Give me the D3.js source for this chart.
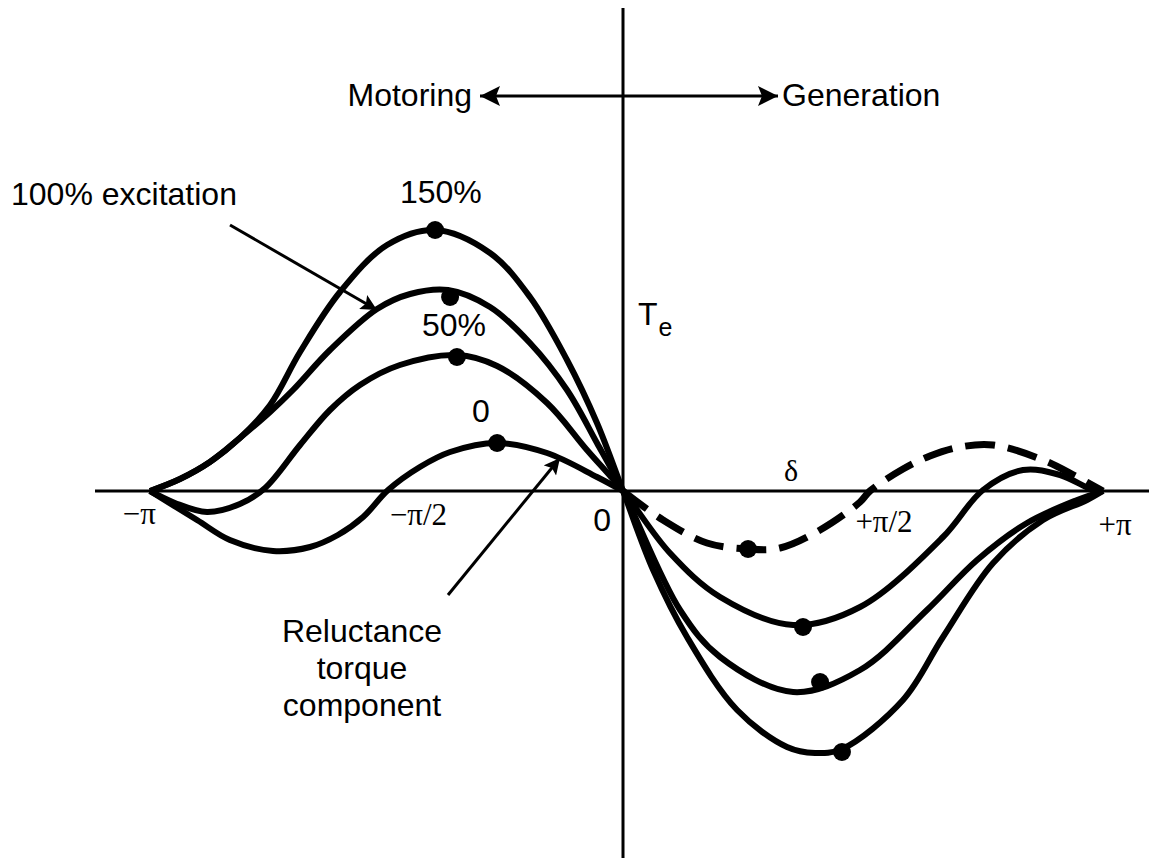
<!DOCTYPE html>
<html>
<head>
<meta charset="utf-8">
<script src="https://cdn.jsdelivr.net/npm/d3@7"></script>
<style>
  html, body { margin: 0; padding: 0; background: #fff; }
  svg { display: block; }
  .sans { font-family: "Liberation Sans", Arial, sans-serif; }
  .serif { font-family: "Liberation Serif", "Times New Roman", serif; }
</style>
</head>
<body>
<svg id="chart" width="1149" height="861"></svg>
<script>
// ---------- data (δ in degrees, torque in arbitrary units) ----------
const tickValues = [-180, -90, 0, 90, 180];
const tickLabels = ["−π", "−π/2", "0", "+π/2", "+π"];

const exc150 = [[-180,0],[-168.6,0.12],[-157.2,0.29],[-145.8,0.53],[-134.3,0.86],[-122.9,1.39],
  [-107.7,1.99],[-89.8,2.46],[-71.5,2.61],[-50.6,2.38],[-35.4,1.94],[-21.3,1.31],[-9.9,0.68],[0,0],
  [11.3,-0.79],[24.0,-1.46],[42.8,-2.19],[61.5,-2.56],[72.0,-2.62],[82.1,-2.58],[105,-2.09],
  [120,-1.46],[138.8,-0.72],[157.5,-0.29],[174,-0.09],[180,0]];
const exc100 = [[-180,0],[-168.6,0.12],[-157.2,0.29],[-145.8,0.53],[-134.3,0.79],[-125.6,1.01],
  [-111.5,1.41],[-93.6,1.82],[-81.0,1.97],[-66.6,2.01],[-50.6,1.84],[-35.4,1.48],[-21.3,1.01],
  [-9.9,0.48],[0,0],
  [21.4,-1.19],[36.4,-1.66],[63.8,-2.01],[88.9,-1.79],[114,-1.19],[132.8,-0.69],[151.5,-0.32],
  [170.3,-0.09],[180,0]];
const exc50 = [[-180,0],[-170.5,-0.12],[-158.3,-0.21],[-145.8,-0.13],[-136.2,0.03],[-122.9,0.46],
  [-111.5,0.81],[-100.1,1.06],[-84.9,1.26],[-63.2,1.36],[-47.9,1.25],[-28.9,0.88],[-13.7,0.41],[0,0],
  [17.6,-0.62],[36.4,-1.06],[63.8,-1.34],[88.9,-1.16],[120,-0.46],[135,0.01],[150,0.21],
  [163.9,0.16],[176.3,0.01],[180,0]];
const exc0Motoring = [[-180,0],[-162.1,-0.29],[-149.6,-0.49],[-133.2,-0.60],[-119.1,-0.56],
  [-108.5,-0.44],[-98.9,-0.26],[-89.4,0.01],[-77.3,0.24],[-65.8,0.39],[-47.9,0.48],[-28.9,0.38],
  [-9.9,0.14],[0,0]];
const exc0Generation = [[0,0],[15,-0.29],[31.5,-0.52],[46.9,-0.58],[58.9,-0.57],[73.9,-0.39],
  [88.9,-0.11],[92.6,0],[105,0.22],[115.1,0.35],[126.4,0.44],[138.8,0.46],[157.5,0.31],
  [170.3,0.14],[180,0]];

const peakDots = [[-71.5,2.61],[82.1,-2.61],[-65.8,1.94],[73.9,-1.91],
  [-63.2,1.34],[67.5,-1.36],[-47.9,0.48],[46.9,-0.58]];

const curveLabels = [
  {text: "150%", d: -84.9, t: 2.88},
  {text: "50%", d: -76.5, t: 1.55},
  {text: "0", d: -57.5, t: 0.69}
];

// ---------- scales ----------
const x = d3.scaleLinear().domain([-180, 0, 180]).range([150, 623, 1103]);
const y = d3.scaleLinear().domain([-3, 3]).range([791, 191]);

const svg = d3.select("#chart");

// arrow markers
const defs = svg.append("defs");
function marker(id, w, h) {
  defs.append("marker")
    .attr("id", id).attr("viewBox", "0 0 10 10").attr("refX", 10).attr("refY", 5)
    .attr("markerUnits", "userSpaceOnUse").attr("markerWidth", w).attr("markerHeight", h)
    .attr("orient", "auto-start-reverse")
    .append("path").attr("d", "M0,0 L10,5 L0,10 L2,5 Z").attr("fill", "#000");
}
marker("arr", 18, 16);
marker("arrBig", 22, 20);

// ---------- axes ----------
svg.append("line").attr("x1", 95).attr("x2", 1149).attr("y1", y(0)).attr("y2", y(0))
  .attr("stroke", "#000").attr("stroke-width", 3);
svg.append("line").attr("x1", x(0)).attr("x2", x(0)).attr("y1", 8).attr("y2", 858)
  .attr("stroke", "#000").attr("stroke-width", 3);

// tick labels
const tickPos = [
  {anchor: "end", dx: 6, dy: 33},
  {anchor: "middle", dx: 32, dy: 34},
  {anchor: "end", dx: -12, dy: 40},
  {anchor: "middle", dx: 21, dy: 41},
  {anchor: "middle", dx: 12, dy: 44}
];
tickValues.forEach((v, i) => {
  svg.append("text")
    .attr("class", i === 2 ? "sans" : "serif")
    .attr("x", x(v) + tickPos[i].dx).attr("y", y(0) + tickPos[i].dy)
    .attr("text-anchor", tickPos[i].anchor)
    .attr("font-size", i === 2 ? 32 : 31)
    .text(tickLabels[i]);
});

// axis titles
svg.append("text").attr("class", "serif").attr("x", 784).attr("y", 481)
  .attr("font-size", 30).text("δ");
const te = svg.append("text").attr("class", "sans").attr("x", 638).attr("y", 325).attr("font-size", 32);
te.append("tspan").text("T");
te.append("tspan").attr("font-size", 25).attr("dy", 11).attr("dx", 1).text("e");

// ---------- curves ----------
const line = d3.line().x(d => x(d[0])).y(d => y(d[1])).curve(d3.curveCatmullRom.alpha(0.5));
[exc150, exc100, exc50, exc0Motoring].forEach(s => {
  svg.append("path").attr("d", line(s)).attr("fill", "none")
    .attr("stroke", "#000").attr("stroke-width", 6).attr("stroke-linejoin", "round");
});
svg.append("path").attr("d", line(exc0Generation)).attr("fill", "none")
  .attr("stroke", "#000").attr("stroke-width", 7).attr("stroke-dasharray", "30,13");

svg.selectAll("circle.dot").data(peakDots).enter().append("circle")
  .attr("class", "dot").attr("cx", d => x(d[0])).attr("cy", d => y(d[1])).attr("r", 9)
  .attr("fill", "#000");

// curve labels
curveLabels.forEach(l => {
  svg.append("text").attr("class", "sans").attr("x", x(l.d)).attr("y", y(l.t))
    .attr("font-size", 32).text(l.text);
});

// ---------- annotations ----------
svg.append("text").attr("class", "sans").attr("x", 11).attr("y", 205)
  .attr("font-size", 32).text("100% excitation");
svg.append("line").attr("x1", 230).attr("y1", 225).attr("x2", 377).attr("y2", 310)
  .attr("stroke", "#000").attr("stroke-width", 3).attr("marker-end", "url(#arr)");

const rel = svg.append("text").attr("class", "sans").attr("text-anchor", "middle")
  .attr("font-size", 32);
["Reluctance", "torque", "component"].forEach((t, i) => {
  rel.append("tspan").attr("x", 362).attr("y", 642 + i * 37).text(t);
});
svg.append("line").attr("x1", 448).attr("y1", 595).attr("x2", 560).attr("y2", 458)
  .attr("stroke", "#000").attr("stroke-width", 3).attr("marker-end", "url(#arr)");

svg.append("text").attr("class", "sans").attr("x", 472).attr("y", 106)
  .attr("text-anchor", "end").attr("font-size", 32).text("Motoring");
svg.append("text").attr("class", "sans").attr("x", 782).attr("y", 106)
  .attr("font-size", 32).text("Generation");
svg.append("line").attr("x1", 480).attr("y1", 96).attr("x2", 778).attr("y2", 96)
  .attr("stroke", "#000").attr("stroke-width", 3)
  .attr("marker-start", "url(#arrBig)").attr("marker-end", "url(#arrBig)");
</script>
</body>
</html>
